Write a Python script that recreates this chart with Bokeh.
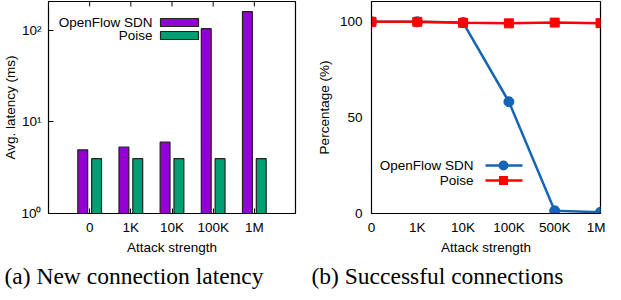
import math
from bokeh.plotting import figure
from bokeh.models import (FixedTicker, Range1d, Label, BoxAnnotation, Title)
from bokeh.layouts import row
from bokeh.embed import file_html
from bokeh.resources import INLINE

# ---- data ----
attack_a = ["0", "1K", "10K", "100K", "1M"]
openflow_latency = [4.95, 5.3, 6.0, 104, 160]
poise_latency = [3.97, 3.97, 3.97, 3.97, 3.97]

attack_b = ["0", "1K", "10K", "100K", "500K", "1M"]
openflow_success = [100, 100, 99.6, 58.3, 1.4, 0.7]
poise_success = [100, 100, 99.5, 99.2, 99.6, 99.3]

latency_ticks = [1, 10, 100]
latency_tick_labels = ["10\u2070", "10\u00b9", "10\u00b2"]
percent_ticks = [0, 50, 100]

PURPLE = "#9400d3"
GREEN = "#009e73"
BLUE = "#1565b4"
RED = "#ff0000"
SANS = "Liberation Sans"
SERIF = "Liberation Serif"
FS = "13.5px"
CAP_FS = "23.5px"
H = 292
W1 = 297
W2 = 308


def style_axis(ax):
    ax.major_label_text_font = SANS
    ax.major_label_text_font_size = FS
    ax.major_label_text_color = "black"
    ax.axis_label_text_font = SANS
    ax.axis_label_text_font_size = FS
    ax.axis_label_text_font_style = "normal"
    ax.axis_label_text_color = "black"
    ax.axis_line_color = "black"
    ax.minor_tick_line_color = None
    ax.major_tick_line_color = "black"


def caption(p, text, offset):
    p.add_layout(Title(text=text, align="left", offset=offset, vertical_align="bottom",
                       text_font=SERIF, text_font_size=CAP_FS, text_font_style="normal",
                       text_color="black", standoff=7), "below")


# ================= (a) latency bars =================
xa = list(range(len(attack_a)))
p1 = figure(width=W1, height=H, y_axis_type="log", title=None,
            x_range=Range1d(-1, len(attack_a)), y_range=Range1d(1, 206),
            output_backend="svg", toolbar_location=None,
            min_border_left=44, min_border_right=2, min_border_top=1,
            min_border_bottom=40)
p1.grid.visible = False
p1.outline_line_color = "black"
p1.outline_line_width = 1.2
p1.background_fill_color = "white"
p1.border_fill_color = "white"

bw = 0.24
off = 0.168
p1.vbar(x=[i - off for i in xa], top=openflow_latency, bottom=1, width=bw,
        fill_color=PURPLE, line_color="#222222", line_width=1.2)
p1.vbar(x=[i + off for i in xa], top=poise_latency, bottom=1, width=bw,
        fill_color=GREEN, line_color="#222222", line_width=1.2)

# mirrored tick marks on the top edge (inward), as in gnuplot
p1.scatter(x=xa, y=[p1.y_range.end] * len(xa), marker="dash", angle=math.pi / 2,
           size=10, line_color="black", line_width=1)

xax = p1.xaxis[0]
xax.ticker = FixedTicker(ticks=xa)
xax.major_label_overrides = {i: s for i, s in zip(xa, attack_a)}
xax.axis_label = "Attack strength"
style_axis(xax)
xax.major_tick_in = 5
xax.major_tick_out = 0
xax.major_label_standoff = 6
xax.axis_label_standoff = 2

yax = p1.yaxis[0]
yax.ticker = FixedTicker(ticks=latency_ticks)
yax.major_label_overrides = {t: s for t, s in zip(latency_ticks, latency_tick_labels)}
yax.axis_label = "Avg. latency (ms)"
style_axis(yax)
yax.major_tick_in = 5
yax.major_tick_out = 0
yax.major_label_standoff = 7
yax.axis_label_standoff = 0

# legend (label left of swatch, as in the original)
for lbl, yb, col in [("OpenFlow SDN", 191, PURPLE), ("Poise", 178, GREEN)]:
    p1.add_layout(Label(x=104, y=yb, x_units="screen", y_units="screen", text=lbl,
                        text_align="right", text_baseline="middle",
                        text_font=SANS, text_font_size=FS, text_color="black"))
    p1.add_layout(BoxAnnotation(left=112, right=150, bottom=yb - 4, top=yb + 4,
                                left_units="screen", right_units="screen",
                                bottom_units="screen", top_units="screen",
                                fill_color=col, fill_alpha=1,
                                line_color="#222222", line_width=1.2, line_alpha=1))

caption(p1, "(a) New connection latency", -44)

# ================= (b) successful connections =================
xb = list(range(len(attack_b)))
p2 = figure(width=W2, height=H, title=None,
            x_range=Range1d(0, len(attack_b) - 1), y_range=Range1d(0, 110.6),
            output_backend="svg", toolbar_location=None,
            min_border_left=74, min_border_right=5, min_border_top=1,
            min_border_bottom=40)
p2.grid.visible = False
p2.outline_line_color = "black"
p2.outline_line_width = 1.2
p2.background_fill_color = "white"
p2.border_fill_color = "white"

p2.line(xb, openflow_success, line_color=BLUE, line_width=2.5)
p2.scatter(xb, openflow_success, marker="circle", size=10, fill_color=BLUE, line_color=BLUE)
p2.line(xb, poise_success, line_color=RED, line_width=2.5)
p2.scatter(xb, poise_success, marker="square", size=9, fill_color=RED, line_color=RED)

xax2 = p2.xaxis[0]
xax2.ticker = FixedTicker(ticks=xb)
xax2.major_label_overrides = {i: s for i, s in zip(xb, attack_b)}
xax2.axis_label = "Attack strength"
style_axis(xax2)
xax2.major_tick_in = 0
xax2.major_tick_out = 0
xax2.major_label_standoff = 6
xax2.axis_label_standoff = 2

yax2 = p2.yaxis[0]
yax2.ticker = FixedTicker(ticks=percent_ticks)
yax2.axis_label = "Percentage (%)"
style_axis(yax2)
yax2.major_tick_in = 0
yax2.major_tick_out = 0
yax2.major_label_standoff = 9
yax2.axis_label_standoff = 5

for lbl, yc, col, shape in [("OpenFlow SDN", 48, BLUE, "circle"), ("Poise", 33, RED, "square")]:
    p2.add_layout(Label(x=102, y=yc, x_units="screen", y_units="screen", text=lbl,
                        text_align="right", text_baseline="middle",
                        text_font=SANS, text_font_size=FS, text_color="black"))
    p2.add_layout(BoxAnnotation(left=114, right=151, bottom=yc - 1.2, top=yc + 1.2,
                                left_units="screen", right_units="screen",
                                bottom_units="screen", top_units="screen",
                                fill_color=col, fill_alpha=1, line_color=None))
    half = 5 if shape == "circle" else 4.5
    p2.add_layout(BoxAnnotation(left=132 - half, right=132 + half,
                                bottom=yc - half, top=yc + half,
                                left_units="screen", right_units="screen",
                                bottom_units="screen", top_units="screen",
                                fill_color=col, fill_alpha=1, line_color=None,
                                border_radius=(half if shape == "circle" else 0)))

caption(p2, "(b) Successful connections", -60)

layout = row(p1, p2)
open("out.html", "w").write(file_html(layout, INLINE))
